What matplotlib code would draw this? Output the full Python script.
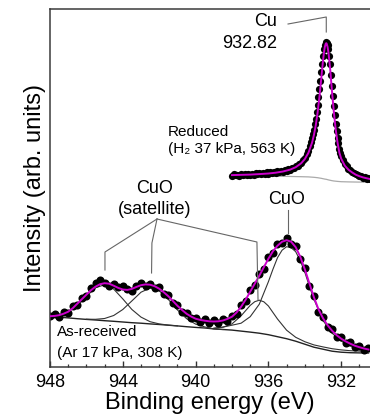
import matplotlib
matplotlib.use("Agg")
import matplotlib.pyplot as plt
from matplotlib.ticker import MultipleLocator

plt.rcParams["font.family"] = ["Liberation Sans", "DejaVu Sans"]

# ---------------- As-received Cu 2p3/2 spectrum (Ar 17 kPa, 308 K) ----------------
asrec_energy = [948.00, 947.75, 947.50, 947.25, 947.00, 946.75, 946.50, 946.25, 946.00,
                945.75, 945.50, 945.25, 945.00, 944.75, 944.50, 944.25, 944.00, 943.75,
                943.50, 943.25, 943.00, 942.75, 942.50, 942.25, 942.00, 941.75, 941.50,
                941.25, 941.00, 940.75, 940.50, 940.25, 940.00, 939.75, 939.50, 939.25,
                939.00, 938.75, 938.50, 938.25, 938.00, 937.75, 937.50, 937.25, 937.00,
                936.75, 936.50, 936.25, 936.00, 935.75, 935.50, 935.25, 935.00, 934.75,
                934.50, 934.25, 934.00, 933.75, 933.50, 933.25, 933.00, 932.75, 932.50,
                932.25, 932.00, 931.75, 931.50, 931.25, 931.00, 930.75, 930.50]
asrec_counts = [51, 53, 50, 55, 54, 61, 62, 69, 71, 79, 84, 87, 84, 81, 83, 80, 81, 78,
                76, 81, 84, 81, 83, 79, 80, 73, 72, 64, 62, 55, 54, 49, 49, 45, 48, 44,
                47, 44, 48, 46, 51, 53, 62, 66, 77, 82, 93, 98, 110, 114, 123, 124, 129,
                123, 121, 108, 99, 81, 71, 55, 50, 40, 38, 30, 30, 24, 25, 20, 21, 17, 19]
asrec_fit = [50.5, 50.8, 51.5, 53.0, 55.0, 58.5, 63.0, 67.5, 72.0, 76.5, 80.0, 82.5, 83.5,
             83.0, 81.0, 78.8, 77.2, 76.8, 77.8, 79.8, 81.5, 82.3, 82.0, 80.5, 78.0, 74.5,
             70.5, 65.8, 61.0, 56.8, 53.0, 50.2, 48.0, 46.8, 46.0, 45.4, 45.2, 45.4, 46.2,
             47.8, 50.0, 54.2, 60.0, 67.0, 75.0, 83.0, 91.0, 99.5, 108.0, 115.5, 121.0,
             125.0, 126.5, 125.0, 119.5, 110.0, 97.5, 83.5, 69.5, 57.5, 48.5, 41.5, 36.0,
             31.5, 28.0, 25.3, 23.0, 21.0, 19.5, 18.2, 17.2]

# Shirley background
bg_energy = [948.0, 947.5, 947.0, 946.5, 946.0, 945.5, 945.0, 944.5, 944.0, 943.5, 943.0,
             942.5, 942.0, 941.5, 941.0, 940.5, 940.0, 939.5, 939.0, 938.5, 938.0, 937.5,
             937.0, 936.5, 936.0, 935.5, 935.0, 934.5, 934.0, 933.5, 933.0, 932.5, 932.0,
             931.5, 931.0, 930.5]
bg_counts = [50.3, 49.5, 48.8, 48.0, 47.3, 46.7, 46.0, 45.4, 44.7, 44.0, 43.5, 42.8, 42.2,
             41.5, 40.8, 40.0, 39.3, 38.7, 37.8, 37.2, 36.6, 35.6, 34.6, 33.5, 32.0, 30.0,
             28.0, 25.5, 22.5, 19.5, 17.5, 15.5, 14.5, 14.0, 13.8, 13.7]

# fitted components (background included)
sat1_energy = [948.0, 947.5, 947.0, 946.5, 946.0, 945.5, 945.0, 944.5, 944.0, 943.5, 943.0,
               942.5, 942.0, 941.5, 941.0]
sat1_counts = [50.9, 51.7, 54.9, 61.2, 70.4, 78.9, 82.0, 77.6, 67.8, 57.2, 49.6, 45.0, 42.8,
               41.6, 40.8]
sat2_energy = [946.0, 945.5, 945.0, 944.5, 944.0, 943.5, 943.0, 942.5, 942.0, 941.5, 941.0,
               940.5, 940.0, 939.5, 939.0, 938.5]
sat2_counts = [47.5, 47.4, 48.2, 51.2, 57.2, 65.8, 74.5, 78.7, 75.9, 67.3, 56.8, 48.1, 42.6,
               39.8, 37.8, 37.2]
shoulder_energy = [939.0, 938.5, 938.0, 937.5, 937.0, 936.75, 936.5, 936.25, 936.0, 935.5,
                   935.0, 934.5, 934.0, 933.5, 933.0, 932.5, 932.0, 931.5, 931.0, 930.5]
shoulder_counts = [38.5, 39.5, 42.8, 50.9, 61.3, 65.0, 66.5, 64.9, 60.7, 47.7, 36.5, 29.4,
                   25.0, 21.8, 19.8, 18.0, 16.8, 16.0, 15.6, 15.3]
main_energy = [939.0, 938.5, 938.0, 937.5, 937.0, 936.5, 936.0, 935.75, 935.5, 935.25, 935.0,
               934.75, 934.5, 934.25, 934.0, 933.75, 933.5, 933.0, 932.5, 932.0, 931.5,
               931.0, 930.5]
main_counts = [38.3, 39.6, 41.5, 43.5, 50.0, 62.5, 85.0, 97.5, 109.0, 116.5, 120.0, 119.0,
               115.0, 106.0, 94.5, 80.5, 67.5, 46.2, 33.5, 25.7, 21.0, 17.7, 15.6]

# ---------------- Reduced spectrum (H2 37 kPa, 563 K) ----------------
red_energy = [938.0, 937.9, 937.8, 937.7, 937.6, 937.5, 937.4, 937.3, 937.2, 937.1, 937.0,
              936.9, 936.8, 936.7, 936.6, 936.5, 936.4, 936.3, 936.2, 936.1, 936.0, 935.9,
              935.8, 935.7, 935.6, 935.5, 935.4, 935.3, 935.2, 935.1, 935.0, 934.9, 934.8,
              934.7, 934.6, 934.5, 934.4, 934.3, 934.2, 934.1, 934.0, 933.9, 933.8, 933.7,
              933.65, 933.60, 933.55, 933.50, 933.45, 933.40, 933.35, 933.30, 933.25,
              933.20, 933.15, 933.10, 933.05, 933.00, 932.95, 932.90, 932.85, 932.80,
              932.75, 932.70, 932.65, 932.60, 932.55, 932.50, 932.45, 932.40, 932.35,
              932.30, 932.25, 932.20, 932.15, 932.10, 932.05, 932.00, 931.9, 931.8, 931.7,
              931.6, 931.5, 931.4, 931.3, 931.2, 931.1, 931.0, 930.9, 930.8, 930.7, 930.6,
              930.5, 930.4]
red_counts = [191.0, 192.5, 191.2, 192.0, 191.0, 192.8, 191.5, 192.4, 191.6, 193.0, 191.8,
              192.9, 192.0, 193.3, 192.2, 193.4, 192.5, 194.0, 192.8, 194.2, 193.0, 194.5,
              193.6, 195.0, 193.8, 195.4, 194.6, 196.0, 195.0, 196.6, 195.8, 197.4, 197.0,
              198.6, 198.2, 200.3, 200.6, 202.8, 203.8, 206.5, 208.2, 212.5, 215.5, 221.0,
              225.0, 229.0, 233.0, 237.0, 242.5, 248.0, 255.0, 261.5, 269.5, 277.5, 286.0,
              294.5, 303.0, 311.0, 317.5, 322.0, 324.5, 323.5, 322.0, 317.5, 310.5, 302.5,
              292.0, 281.0, 271.0, 261.0, 252.0, 243.0, 236.0, 229.0, 223.5, 218.0, 214.0,
              210.5, 206.5, 202.5, 200.8, 198.0, 196.8, 195.0, 194.0, 192.3, 192.0, 190.4,
              190.6, 189.0, 189.5, 188.0, 188.6, 187.2]
red_fit_energy = [938.0, 937.5, 937.0, 936.5, 936.0, 935.6, 935.2, 934.8, 934.5, 934.2, 934.0,
                  933.8, 933.6, 933.5, 933.4, 933.3, 933.2, 933.1, 933.05, 933.0, 932.95,
                  932.9, 932.85, 932.82, 932.8, 932.75, 932.7, 932.65, 932.6, 932.55, 932.5,
                  932.45, 932.4, 932.3, 932.2, 932.1, 932.0, 931.8, 931.6, 931.4, 931.2,
                  931.0, 930.8, 930.6, 930.4]
red_fit = [191.6, 191.85, 192.1, 192.6, 193.2, 194.0, 195.2, 197.1, 199.5, 203.4, 207.6,
           213.9, 224.1, 231.6, 241.2, 253.6, 269.1, 287.3, 296.8, 305.9, 313.9, 319.8,
           323.1, 323.5, 323.1, 319.9, 314.0, 305.8, 296.5, 285.0, 274.0, 264.0, 254.0,
           237.0, 224.0, 214.0, 208.0, 201.0, 197.0, 194.3, 192.0, 190.5, 189.3, 188.4, 187.6]
red_bg_energy = [938.0, 936.0, 935.0, 934.2, 933.8, 933.5, 933.3, 933.1, 933.0, 932.9, 932.82,
                 932.7, 932.6, 932.5, 932.4, 932.2, 932.0, 931.6, 931.0, 930.4]
red_bg = [190.6, 190.5, 190.3, 190.0, 189.8, 189.4, 189.0, 188.4, 188.0, 187.6, 187.4, 186.8,
          186.4, 186.0, 185.7, 185.3, 185.0, 184.8, 184.6, 184.5]

cu_peak = 932.82
x_ticks = [948, 944, 940, 936, 932]

# ---------------- figure ----------------
fig = plt.figure(figsize=(3.7, 4.15), dpi=100)
ax = fig.add_axes([50 / 370, 48.3 / 415, 320 / 370, 357.7 / 415])

comp_kw = dict(color="#333333", lw=0.8, zorder=1)
ax.plot(bg_energy, bg_counts, color="#222222", lw=1.0, zorder=1)
ax.plot(sat1_energy, sat1_counts, **comp_kw)
ax.plot(sat2_energy, sat2_counts, **comp_kw)
ax.plot(shoulder_energy, shoulder_counts, **comp_kw)
ax.plot(main_energy, main_counts, **comp_kw)
ax.plot(red_bg_energy, red_bg, color="#aaaaaa", lw=0.9, zorder=1)

dot_kw = dict(ls="none", marker="o", mfc="black", mec="black", mew=0, zorder=2)
ax.plot(asrec_energy, asrec_counts, ms=5.8, **dot_kw)
ax.plot(red_energy, red_counts, ms=5.2, **dot_kw)

fit_kw = dict(color="#cc00cc", lw=1.4, zorder=3)
ax.plot(asrec_energy, asrec_fit, **fit_kw)
ax.plot(red_fit_energy, red_fit, **fit_kw)

# annotations
lead = dict(color="#666666", lw=0.8, zorder=4)
ax.plot([934.92, cu_peak, cu_peak], [342.7, 349.7, 334.7], **lead)
ax.text(935.53, 344.7, "Cu", ha="right", va="center", fontsize=13)
ax.text(935.53, 323.7, f"{cu_peak:.2f}", ha="right", va="center", fontsize=13)

ax.text(941.52, 234.7, "Reduced", ha="left", va="center", fontsize=11)
ax.text(941.52, 218.2, "(H\u2082 37 kPa, 563 K)", ha="left", va="center", fontsize=11)

ax.text(942.23, 178.7, "CuO", ha="center", va="center", fontsize=13)
ax.text(942.23, 157.7, "(satellite)", ha="center", va="center", fontsize=13)
ax.plot([942.12, 944.98, 944.98], [147.7, 114.7, 96.7], **lead)
ax.plot([942.12, 942.40, 942.42], [147.7, 123.7, 93.7], **lead)
ax.plot([942.12, 936.63, 936.57], [147.7, 124.7, 66.7], **lead)

ax.text(934.98, 167.7, "CuO", ha="center", va="center", fontsize=13)
ax.plot([934.92, 934.92], [156.7, 134.0], **lead)

ax.text(947.62, 34.7, "As-received", ha="left", va="center", fontsize=11)
ax.text(947.62, 14.2, "(Ar 17 kPa, 308 K)", ha="left", va="center", fontsize=11)

# axes styling
ax.set_xlim(948, 948 - 320 / 18.2)
ax.set_ylim(0, 357.7)
ax.set_xticks(x_ticks)
ax.xaxis.set_minor_locator(MultipleLocator(1))
ax.set_yticks([])
ax.tick_params(axis="x", which="both", direction="in", top=False, colors="#333333",
               labelcolor="black", labelsize=13, pad=5)
ax.tick_params(axis="x", which="major", length=4.5, width=1.0)
ax.tick_params(axis="x", which="minor", length=2.5, width=0.9)
for side in ("left", "top", "bottom"):
    ax.spines[side].set_color("#3a3a3a")
    ax.spines[side].set_linewidth(1.1)
ax.spines["right"].set_visible(False)

ax.set_xlabel("Binding energy (eV)", fontsize=17, labelpad=1)
ax.set_ylabel("Intensity (arb. units)", fontsize=17, labelpad=3)

fig.savefig("out.png", dpi=100)
